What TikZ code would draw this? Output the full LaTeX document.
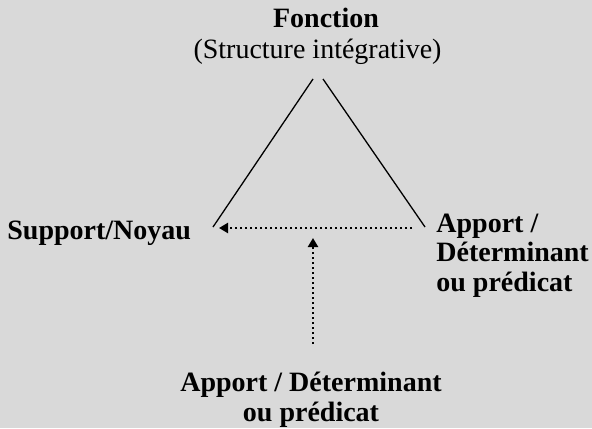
\documentclass[tikz,border=0pt]{standalone}
\usepackage{fontspec}
\setmainfont{Liberation Serif}
\usetikzlibrary{arrows.meta}
\definecolor{bg}{RGB}{217,217,217}
\begin{document}
\begin{tikzpicture}[x=0.5pt,y=-0.5pt,
  lbl/.style={inner sep=0pt, font=\fontsize{14}{14.75}\selectfont},
  bl/.style={lbl, font=\fontsize{14}{14.75}\selectfont\bfseries},
  side/.style={line width=0.65pt},
  dotarrow/.style={line width=1.1pt, dash pattern=on 1.1pt off 1.4pt, -{Triangle[length=4.5pt,width=5pt]}}]
\fill[bg] (0,0) rectangle (592,428);
\useasboundingbox (0,0) rectangle (592,428);
\node[bl, anchor=base] (fonc) at (326,27) {Fonction};
\node[lbl, anchor=base] (struct) at (317.5,58) {(Structure intégrative)};
\node[bl, anchor=base west] (supp) at (7,239) {Support/Noyau};
\node[bl, anchor=base west, align=left] (appr) at (436,291) {Apport /\\Déterminant\\ou prédicat};
\node[bl, anchor=base, align=center] (appb) at (311,421) {Apport / Déterminant\\ou prédicat};
\coordinate (tl) at (313,79);
\coordinate (tr) at (323,79);
\coordinate (bl) at (213,227);
\coordinate (br) at (425,227);
\coordinate (hs) at (412,228);
\coordinate (he) at (219,228);
\coordinate (vs) at (313,344);
\coordinate (ve) at (313,238);
\draw[side] (tl) -- (bl);
\draw[side] (tr) -- (br);
\draw[dotarrow] (hs) -- (he);
\draw[dotarrow] (vs) -- (ve);
\end{tikzpicture}
\end{document}
